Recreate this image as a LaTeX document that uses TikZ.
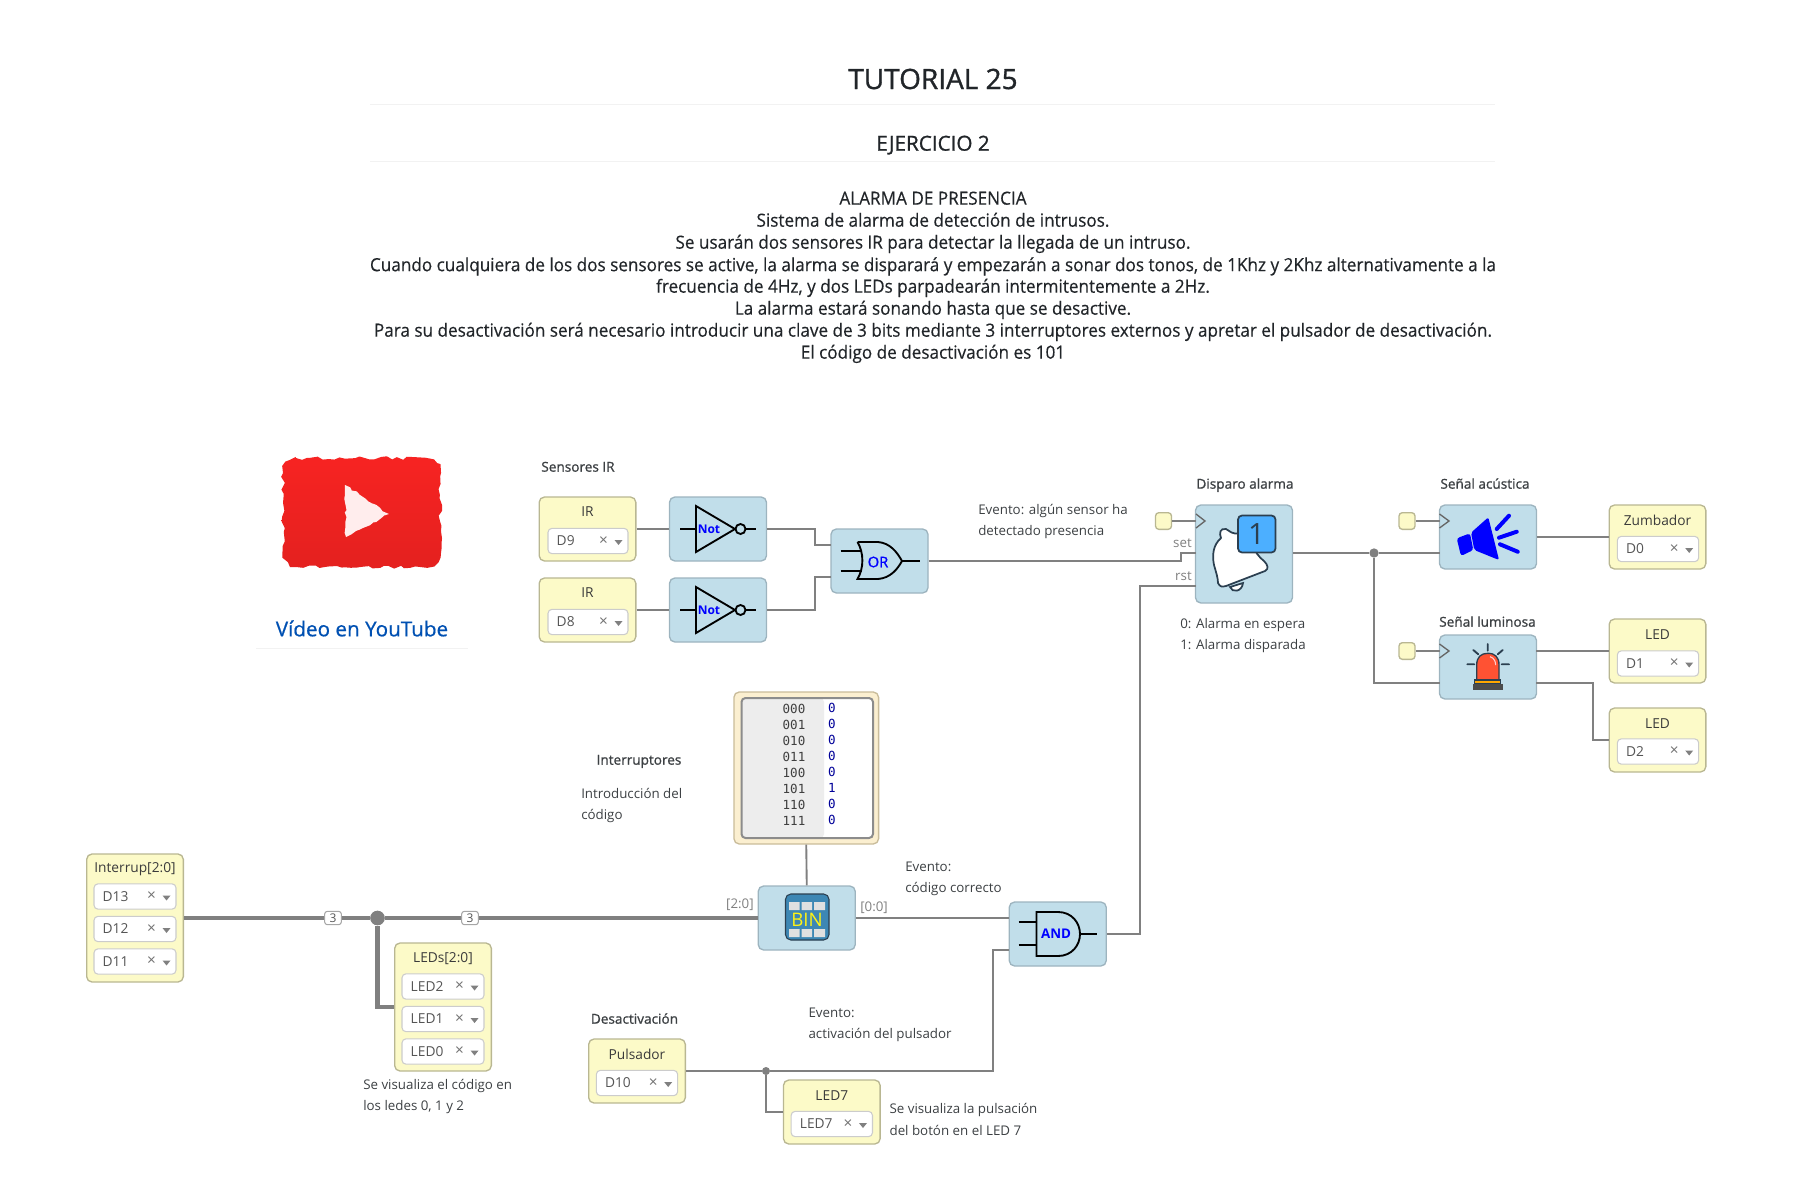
\documentclass[tikz,border=0pt]{standalone}
\usepackage{fontspec}
\setmainfont{Open Sans}
\newfontfamily\codefont{DejaVu Sans Mono}
\newfontfamily\bodyfont[FakeStretch=0.945,FakeBold=0.4]{Open Sans}
\newfontfamily\headfont[FakeBold=1.1]{Open Sans}
\newfontfamily\linkfont[FakeBold=0.6]{Open Sans}
\usetikzlibrary{calc}
\usetikzlibrary{positioning}
\usetikzlibrary{decorations.pathmorphing}
\definecolor{inyellow}{HTML}{FCFAC8}
\definecolor{inborder}{HTML}{B9B792}
\definecolor{fnblue}{HTML}{C1DEEA}
\definecolor{fnborder}{HTML}{9DB4BF}
\definecolor{wiregray}{HTML}{808080}
\definecolor{txtdark}{HTML}{212529}
\definecolor{txtlabel}{HTML}{3C4043}
\definecolor{seltxt}{HTML}{555555}
\definecolor{bellink}{HTML}{2B3F50}
\definecolor{tubetop}{HTML}{F72322}
\definecolor{tubelow}{HTML}{E4211F}
\definecolor{tablecream}{HTML}{FBEFD0}
\definecolor{tableedge}{HTML}{C9BC9A}
\definecolor{binblue}{HTML}{3D87B4}
\tikzset{
    inbox/.style={draw=inborder,fill=inyellow,line width=1pt,rounded corners=4pt,inner sep=0pt,minimum width=72.5pt,minimum height=48pt},
    fnbox/.style={draw=fnborder,fill=fnblue,line width=1pt,rounded corners=4pt,inner sep=0pt,minimum width=72.75pt,minimum height=48pt},
    selbox/.style={draw=black!20,fill=white,line width=0.8pt,rounded corners=3pt,inner sep=0pt,minimum height=19pt},
    ledge/.style={draw=inborder,fill=inyellow,line width=1pt,rounded corners=2.5pt,inner sep=0pt,minimum width=12pt,minimum height=12.5pt},
    wire/.style={draw=wiregray,line width=1.4pt},
    buswire/.style={draw=wiregray,line width=3.6pt},
    dotnode/.style={circle,fill=wiregray,inner sep=0pt},
    buslabel/.style={draw=black!35,fill=white,line width=0.8pt,rounded corners=2pt,inner sep=0pt,minimum width=12.5pt,minimum height=10pt,font=\fontsize{9}{9}\selectfont,text=seltxt},
    gateink/.style={draw=black,line width=1.4pt},
    gatetxt/.style={inner sep=0pt,text=blue,font=\fontsize{9}{10}\selectfont\bfseries},
    chevron/.style={draw=black!60,line width=1pt},
    bodytxt/.style={inner sep=0pt,text height=10pt,text depth=3pt,text=txtdark,font=\bodyfont\fontsize{13.6}{16}\selectfont},
    labeltxt/.style={inner sep=0pt,text height=7.5pt,text depth=2pt,text=txtlabel,font=\fontsize{10}{12}\selectfont},
    headtxt/.style={inner sep=0pt,text height=7.5pt,text depth=2pt,text=txtlabel,font=\headfont\fontsize{10.2}{12}\selectfont},
    titletxt/.style={inner sep=0pt,text height=7.5pt,text depth=2pt,text=seltxt!70!black,font=\fontsize{10.3}{12}\selectfont},
    porttxt/.style={inner sep=0pt,text height=7.5pt,text depth=2pt,text=black!50,font=\fontsize{10}{12}\selectfont},
    hrule/.style={draw=black!5,line width=0.75pt},
    codetxt/.style={inner sep=0pt,font=\codefont\fontsize{9.4}{10}\selectfont,text=black!75},
    valtxt/.style={inner sep=0pt,font=\codefont\fontsize{9.4}{10}\selectfont,text=blue!60!black},
}
% select field: name, centre x, centre y, width in pt, text
\newcommand{\selfield}[5]{
\node (#1) [selbox,minimum width=#4pt] at (#2,#3) {};
\node (#1txt) [anchor=west,inner sep=0pt,text=seltxt,font=\fontsize{10.3}{12}\selectfont] at ($(#1.west)+(9,0)$) {#5};
\node (#1x) [inner sep=0pt,text=black!55,font=\fontsize{11.5}{11.5}\selectfont] at ($(#1.east)+(-25,0)$) {×};
\fill [black!50] ($(#1.east)+(-14,-1)$) -- ($(#1.east)+(-6,-1)$) -- ($(#1.east)+(-10,4)$) -- cycle;
}

\begin{document}
\begin{tikzpicture}[x=0.75pt,y=0.75pt,yscale=-1,xscale=1]
\useasboundingbox (0,0) rectangle (1810,1189);

% Text Node
\draw (933,79) node [inner sep=0pt,text=txtdark,font=\headfont\fontsize{21}{24}\selectfont] (maintitle) {TUTORIAL 25};
% Text Node
\draw (933,143) node [inner sep=0pt,text height=11.5pt,text depth=0pt,text=txtdark,font=\headfont\fontsize{15.5}{18}\selectfont] (subtitle) {EJERCICIO 2};
%Straight Lines
\draw [hrule] (370,104) -- (1495,104);
\draw [hrule] (370,161) -- (1495,161);

% Text Node
\draw (933,200) node [bodytxt] (lineone) {ALARMA DE PRESENCIA};
\draw (933,222) node [bodytxt] (linetwo) {Sistema de alarma de detección de intrusos.};
\draw (933,244) node [bodytxt] (linethree) {Se usarán dos sensores IR para detectar la llegada de un intruso.};
\draw (933,266.5) node [bodytxt] (linefour) {Cuando cualquiera de los dos sensores se active, la alarma se disparará y empezarán a sonar dos tonos, de 1Khz y 2Khz alternativamente a la};
\draw (933,288) node [bodytxt] (linefive) {frecuencia de 4Hz, y dos LEDs parpadearán intermitentemente a 2Hz.};
\draw (933,310) node [bodytxt] (linesix) {La alarma estará sonando hasta que se desactive.};
\draw (933,332) node [bodytxt] (lineseven) {Para su desactivación será necesario introducir una clave de 3 bits mediante 3 interruptores externos y apretar el pulsador de desactivación.};
\draw (933,354) node [bodytxt] (lineeight) {El código de desactivación es 101};

%Shape: video logo
\pgfmathsetseed{25}
\shade [top color=tubetop,bottom color=tubelow,decorate,decoration={random steps,segment length=4pt,amplitude=1.4pt}] (296,458) -- (427,458) .. controls (436,459) and (440,464) .. (440,473) -- (441,553) .. controls (440,561) and (436,566) .. (427,567) -- (296,567) .. controls (288,566) and (284,561) .. (283,553) -- (283,473) .. controls (284,464) and (288,459) .. (296,458) -- cycle;
\fill [white!93!red,decorate,decoration={random steps,segment length=3.5pt,amplitude=1pt}] (345,485) -- (389,514) -- (346,537) -- cycle;
% Text Node
\draw (362,628.5) node [inner sep=0pt,text=blue!55!cyan!70!black,font=\linkfont\fontsize{15.5}{18}\selectfont] (videolink) {Vídeo en YouTube};
\draw [hrule] (256,648) -- (468,648);

% Input blocks, sensors
\draw (578,468) node [headtxt] (sensorhead) {Sensores IR};
\node (irone) [inbox] at (587.5,529) {};
\node (irtwo) [inbox] at (587.5,610) {};
\draw (587.5,513) node [titletxt] (ironetitle) {IR};
\draw (587.5,594) node [titletxt] (irtwotitle) {IR};
\selfield{irsel}{588}{541}{60}{D9}
\selfield{irseltwo}{588}{622}{60}{D8}

% Not blocks
\node (notone) [fnbox] at (718,529) {};
\node (nottwo) [fnbox] at (718,610) {};
\draw [gateink] (696,506) -- (735,529) -- (696,552) -- cycle;
\draw [gateink] (680,529) -- (696,529) (745.5,529) -- (756,529);
\draw [gateink] (740.5,529) circle (5);
\draw [gateink] (696,587) -- (735,610) -- (696,633) -- cycle;
\draw [gateink] (680,610) -- (696,610) (745.5,610) -- (756,610);
\draw [gateink] (740.5,610) circle (5);
\draw (709,529) node [gatetxt] (notonelabel) {Not};
\draw (709,610) node [gatetxt] (nottwolabel) {Not};

% Or block
\node (orgate) [fnbox] at (879.5,561) {};
\draw [gateink] (857.5,542) -- (878,542) .. controls (890,543) and (897,552) .. (902,561) .. controls (897,570) and (890,578) .. (878,579) -- (857.5,579) .. controls (864,568) and (864,553) .. (857.5,542);
\draw [gateink] (840.5,551) -- (862,551) (840.5,571) -- (862,571) (902,561) -- (919.5,561);
\draw (878,562) node [gatetxt,font=\headfont\fontsize{11}{11}\selectfont] (orlabel) {OR};
\coordinate (orina) at (831,545);
\coordinate (orinb) at (831,577);

%Straight Lines
\draw [wire] (irone.east) -- (notone.west);
\draw [wire] (irtwo.east) -- (nottwo.west);
\draw [wire] (notone.east) -- ++(48,0) |- (orina);
\draw [wire] (nottwo.east) -- ++(48,0) |- (orinb);

% Text Node
\draw (978,511) node [labeltxt,anchor=west] (eventone) {Evento: algún sensor ha};
\draw (978,532) node [labeltxt,anchor=west] (eventtwo) {detectado presencia};

% Alarm block
\draw (1245,485) node [headtxt] (alarmhead) {Disparo alarma};
\node (alarmblock) [fnbox,minimum height=73.5pt] at (1244,554) {};
\node (alarmled) [ledge] at (1163.5,521) {};
\coordinate (alarmclk) at (1196,521);
\coordinate (setport) at (1196,553);
\coordinate (rstport) at (1196,586);
\draw [wire] (alarmled.east) -- (alarmclk);
\draw [chevron] (1196,514) -- (1205,521) -- (1196,528);
\draw (1192,544) node [porttxt,anchor=east] (setlabel) {set};
\draw (1192,577) node [porttxt,anchor=east] (rstlabel) {rst};
\draw [draw=bellink,fill=white,line width=1.3pt,line join=round] (1240,533) .. controls (1232,535) and (1230,531) .. (1226,529) .. controls (1220,528) and (1219,533) .. (1221,538) .. controls (1213,545) and (1212,555) .. (1214,565) .. controls (1216,572) and (1218,578) .. (1218,583) .. controls (1220,587) and (1222,587) .. (1226,586) -- (1265,571) .. controls (1269,569) and (1268,565) .. (1264,561) .. controls (1258,556) and (1255,552) .. (1254,546) -- cycle;
\draw [draw=bellink,fill=white,line width=1.3pt] (1230,587) .. controls (1232,593) and (1242,592) .. (1243,583) -- cycle;
\draw (1238,515.5) [draw=bellink,fill=blue!45!cyan!70!white,line width=1.3pt,rounded corners=3pt] rectangle (1275.5,552.5);
\draw (1256.5,534) node [inner sep=0pt,text=bellink,font=\fontsize{22}{22}\selectfont] (alarmcount) {1};
\draw (1180,625) node [labeltxt,anchor=west] (alarmzero) {0: Alarma en espera};
\draw (1180,646) node [labeltxt,anchor=west] (alarmuno) {1: Alarma disparada};

%Straight Lines
\draw [wire] (orgate.east) -- ++(252,0) |- (setport);

% Speaker block
\draw (1485,485) node [headtxt] (speakhead) {Señal acústica};
\node (speaker) [fnbox] at (1488,537) {};
\node (speakled) [ledge] at (1407,521) {};
\coordinate (speakclk) at (1439.5,521);
\coordinate (speakport) at (1439.5,553);
\draw [wire] (speakled.east) -- (speakclk);
\draw [chevron] (1439.5,514) -- (1449,521) -- (1439.5,528);
\fill [blue,rounded corners=2pt] (1456.7,538.3) -- (1470,533.3) -- (1473.3,550) -- (1461,556) -- cycle;
\fill [blue,rounded corners=1.5pt] (1471,532.7) -- (1488.3,517.3) -- (1499,560) -- (1474.3,550) -- cycle;
\draw [blue,line width=3pt,line cap=round] (1496.7,529) -- (1509,515.7) (1499,537.7) -- (1516.7,531.7) (1500,544.3) -- (1517.7,551.7);

\draw (1487.5,623) node [headtxt] (lamphead) {Señal luminosa};
\node (lamp) [fnbox] at (1488,667) {};
\node (lampled) [ledge] at (1407,651) {};
\coordinate (lampclk) at (1439.5,651);
\coordinate (lampport) at (1439.5,683);
\coordinate (lampouta) at (1536.4,651);
\coordinate (lampoutb) at (1536.4,683);
\draw [wire] (lampled.east) -- (lampclk);
\draw [chevron] (1439.5,644) -- (1449,651) -- (1439.5,658);
\draw [bellink,line width=1.4pt,line cap=round] (1487.7,644) -- (1487.7,650.7) (1473.3,650) -- (1478.3,654.3) (1502.7,650) -- (1497.7,654.3) (1467.3,664.3) -- (1474.3,664.3) (1501.7,664.3) -- (1509,664.3);
\draw [draw=bellink,fill=red!70!orange!80!white,line width=1pt] (1476.7,680) -- (1476.7,665) .. controls (1476.7,657) and (1481,653.3) .. (1487.8,653.3) .. controls (1495,653.3) and (1499,657) .. (1499,665) -- (1499,680) -- cycle;
\draw [white!80!red,line width=0.8pt] (1490,656.7) .. controls (1494,658) and (1495.5,661) .. (1495.7,665);
\draw [draw=bellink,fill=orange!70!yellow,line width=0.8pt] (1474.3,680) rectangle (1500.7,683.5);
\fill [black!70] (1472.7,683.5) rectangle (1502.7,690);

% Output blocks
\node (buzzer) [inbox] at (1657.5,537) {};
\draw (1657.5,521.5) node [titletxt] (buzzertitle) {Zumbador};
\selfield{buzzersel}{1658}{549}{61}{D0}
\node (ledone) [inbox] at (1657.5,651) {};
\draw (1657.5,636) node [titletxt] (ledonetitle) {LED};
\selfield{ledonesel}{1658}{663.5}{61}{D1}
\node (ledtwo) [inbox] at (1657.5,740) {};
\draw (1657.5,725) node [titletxt] (ledtwotitle) {LED};
\selfield{ledtwosel}{1658}{751.5}{61}{D2}

% Joining wires
\draw (1374,553) node [dotnode,minimum size=7pt] (alarmdot) {};
\draw [wire] (alarmblock.east |- alarmdot) -- (alarmdot) -- (speakport);
\draw [wire] (alarmdot) |- (lampport);
\draw [wire] (speaker.east) -- (buzzer.west);
\draw [wire] (lampouta) -- (ledone.west);
\draw [wire] (lampoutb) -- ++(56.6,0) |- (ledtwo.west);

% Table block
\draw (639,761) node [headtxt] (switchhead) {Interruptores};
\draw (581,794.5) node [labeltxt,anchor=west] (switchone) {Introducción del};
\draw (581,815.5) node [labeltxt,anchor=west] (switchtwo) {código};
\node (truthtable) [draw=tableedge,fill=tablecream,line width=1pt,rounded corners=4pt,inner sep=0pt,minimum width=108.5pt,minimum height=114pt] at (806.25,768) {};
\fill [white,rounded corners=3pt] (741.5,698) rectangle (873,838);
\fill [black!7,rounded corners=3pt] (741.5,698) -- (824,698) -- (824,838) -- (741.5,838) -- cycle;
\draw [black!45,line width=1.5pt,rounded corners=3pt] (741.5,698) rectangle (873,838);
\draw (794,709) node [codetxt] (rowa) {000};
\draw (794,725) node [codetxt] (rowb) {001};
\draw (794,741) node [codetxt] (rowc) {010};
\draw (794,757) node [codetxt] (rowd) {011};
\draw (794,773) node [codetxt] (rowe) {100};
\draw (794,789) node [codetxt] (rowf) {101};
\draw (794,804.5) node [codetxt] (rowg) {110};
\draw (794,820.5) node [codetxt] (rowh) {111};
\draw (832,708) node [valtxt] (vala) {0};
\draw (832,724) node [valtxt] (valb) {0};
\draw (832,740) node [valtxt] (valc) {0};
\draw (832,756) node [valtxt] (vald) {0};
\draw (832,772) node [valtxt] (vale) {0};
\draw (832,787.5) node [valtxt] (valf) {1};
\draw (832,803.5) node [valtxt] (valg) {0};
\draw (832,819.5) node [valtxt] (valh) {0};

% Bin block
\node (binblock) [fnbox] at (806.75,918) {};
\draw [draw=bellink,fill=binblue,line width=0.8pt,rounded corners=4pt] (785.5,894) rectangle (829,940);
\fill [black!12] (789,902) rectangle (799.6,910) (801.5,902) rectangle (812,910) (814,902) rectangle (825,910) (789,929) rectangle (799.6,937) (801.5,929) rectangle (812,937) (814,929) rectangle (825,937);
\draw (807,920) node [inner sep=0pt,text=yellow!92!white,font=\fontsize{14}{14}\selectfont] (binlabel) {BIN};
\draw [wire] (truthtable.south) -- (binblock.north);
\draw (754,905) node [porttxt,anchor=east] (bininlabel) {[2:0]};
\draw (860,908) node [porttxt,anchor=west] (binoutlabel) {[0:0]};

% And block
\node (andgate) [fnbox] at (1057.75,934) {};
\draw [gateink] (1036.5,912) -- (1058,912) .. controls (1072,912) and (1080,923) .. (1080,934) .. controls (1080,945) and (1072,956) .. (1058,956) -- (1036.5,956) -- cycle;
\draw [gateink] (1018.5,922) -- (1036.5,922) (1018.5,945) -- (1036.5,945) (1080,934) -- (1097,934);
\draw (1056,933.5) node [gatetxt,font=\fontsize{10}{11}\selectfont\bfseries] (andlabel) {AND};
\coordinate (andina) at (1009,918);
\coordinate (andinb) at (1009,950);
\coordinate (andjog) at (993,950);
\draw [wire] (binblock.east) -- (andina);
\draw [wire] (andgate.east) -- ++(33,0) |- (rstport);
\draw (905,868) node [labeltxt,anchor=west] (eventthree) {Evento:};
\draw (905,889) node [labeltxt,anchor=west] (eventfour) {código correcto};

% Switches bus
\node (interrup) [inbox,minimum height=96pt] at (135,918) {};
\draw (135,868.5) node [titletxt] (interruptitle) {Interrup[2:0]};
\selfield{swa}{135}{896.5}{61.5}{D13}
\selfield{swb}{135}{929}{61.5}{D12}
\selfield{swc}{135}{961.5}{61.5}{D11}
\node (leds) [inbox] [minimum height=96pt] at (443,1007) {};
\draw (443,958.5) node [titletxt] (ledstitle) {LEDs[2:0]};
\selfield{leda}{443}{986.5}{61.5}{LED2}
\selfield{ledb}{443}{1019}{61.5}{LED1}
\selfield{ledc}{443}{1051.5}{61.5}{LED0}
\draw (377.5,918) node [dotnode,minimum size=11pt] (busdot) {};
\draw [buswire] (interrup.east) -- (busdot) -- (binblock.west);
\draw [buswire] (busdot) |- (leds.west);
\draw (333,918) node [buslabel] (busone) {3};
\draw (470,918) node [buslabel] (bustwo) {3};
\draw (363,1086) node [labeltxt,anchor=west] (ledsone) {Se visualiza el código en};
\draw (363,1107) node [labeltxt,anchor=west] (ledstwo) {los ledes 0, 1 y 2};

% Button block
\draw (634.5,1020) node [headtxt] (buttonhead) {Desactivación};
\node (pulsador) [inbox] at (637,1071) {};
\draw (637,1056) node [titletxt] (pulsadortitle) {Pulsador};
\selfield{pulsadorsel}{637}{1083}{61}{D10}
\node (ledseven) [inbox] at (831.8,1112) {};
\draw (831.8,1097) node [titletxt] (ledseventitle) {LED7};
\selfield{ledsevensel}{831.8}{1124}{61}{LED7}
\draw (766,1071) node [dotnode,minimum size=6pt] (pulsadot) {};
\draw [wire] (pulsador.east) -- (pulsadot) -| (andjog) -- (andinb);
\draw [wire] (pulsadot) |- (ledseven.west);
\draw (808.3,1014) node [labeltxt,anchor=west] (eventfive) {Evento:};
\draw (808.3,1035) node [labeltxt,anchor=west] (eventsix) {activación del pulsador};
\draw (889.3,1110) node [labeltxt,anchor=west] (ledsevenone) {Se visualiza la pulsación};
\draw (889.3,1132) node [labeltxt,anchor=west] (ledseventwo) {del botón en el LED 7};

\end{tikzpicture}
\end{document}
